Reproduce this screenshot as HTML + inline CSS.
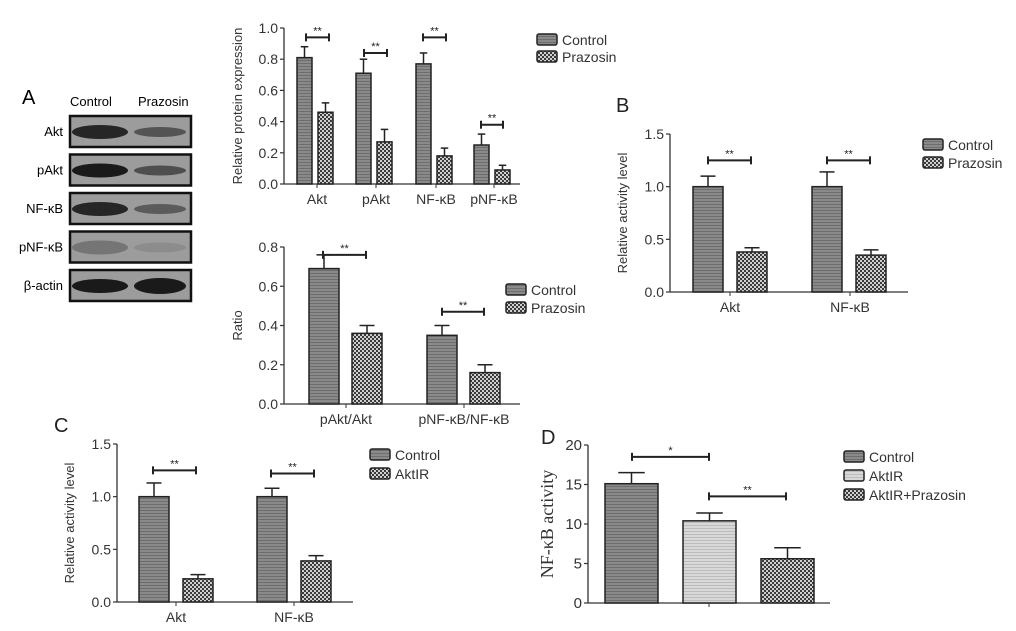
<!DOCTYPE html>
<html><head><meta charset="utf-8"><style>
body{margin:0;background:#fff;}
svg{display:block;font-family:"Liberation Sans",sans-serif;}
</style></head><body>
<svg id="fig" width="1016" height="631" viewBox="0 0 1016 631">
<defs>
<pattern id="hlines" width="4" height="3" patternUnits="userSpaceOnUse"><rect width="4" height="3" fill="#8a8a8a"/><rect width="4" height="1" fill="#6e6e6e"/></pattern>
<pattern id="hlight" width="4" height="3" patternUnits="userSpaceOnUse"><rect width="4" height="3" fill="#d8d8d8"/><rect width="4" height="1" fill="#bcbcbc"/></pattern>
<pattern id="checker" width="4" height="4" patternUnits="userSpaceOnUse"><rect width="4" height="4" fill="#3a3a3a"/><rect width="2" height="2" fill="#cfcfcf"/><rect x="2" y="2" width="2" height="2" fill="#cfcfcf"/></pattern>
</defs>
<g id="blot">
<text x="22" y="104" font-size="20">A</text>
<text x="70" y="106" font-size="13">Control</text>
<text x="138" y="106" font-size="13">Prazosin</text>
</g>
<g id="charts"></g>
</svg>
<script>
// ---- Panel A top
const aTopCats=["Akt","pAkt","NF-κB","pNF-κB"];
const aTopControl=[0.81,0.71,0.77,0.25];
const aTopControlErr=[0.07,0.09,0.07,0.07];
const aTopPrazosin=[0.46,0.27,0.18,0.09];
const aTopPrazosinErr=[0.06,0.08,0.05,0.03];
const aTopTicks=["0.0","0.2","0.4","0.6","0.8","1.0"];
// ---- Panel A ratio
const aRatioCats=["pAkt/Akt","pNF-κB/NF-κB"];
const aRatioControl=[0.69,0.35];
const aRatioControlErr=[0.07,0.05];
const aRatioPrazosin=[0.36,0.16];
const aRatioPrazosinErr=[0.04,0.04];
const aRatioTicks=["0.0","0.2","0.4","0.6","0.8"];
// ---- Panel B
const bCats=["Akt","NF-κB"];
const bControl=[1.0,1.0];
const bControlErr=[0.1,0.14];
const bPrazosin=[0.38,0.35];
const bPrazosinErr=[0.04,0.05];
const bTicks=["0.0","0.5","1.0","1.5"];
// ---- Panel C
const cCats=["Akt","NF-κB"];
const cControl=[1.0,1.0];
const cControlErr=[0.13,0.08];
const cAktIR=[0.22,0.39];
const cAktIRErr=[0.04,0.05];
const cTicks=["0.0","0.5","1.0","1.5"];
// ---- Panel D
const dCats=["Control","AktIR","AktIR+Prazosin"];
const dValues=[15.1,10.4,5.6];
const dErr=[1.4,1.0,1.4];
const dTicks=["0","5","10","15","20"];

const NS="http://www.w3.org/2000/svg";
const root=document.getElementById('charts');
const blot=document.getElementById('blot');
function mk(tag,attrs,parent){const e=document.createElementNS(NS,tag);for(const k in attrs)e.setAttribute(k,attrs[k]);(parent||root).appendChild(e);return e;}

const blotRows=["Akt","pAkt","NF-κB","pNF-κB","β-actin"];
const blotC=[0.9,1,0.9,0.3,1];
const blotP=[0.55,0.6,0.5,0.12,1];
blotRows.forEach((r,i)=>{
  const y=116+i*38.5;
  const box=mk('rect',{x:70,y:y,width:121,height:31,fill:'#9c9c9c',stroke:'#111','stroke-width':2.5},blot);
  
  
  mk('ellipse',{cx:100,cy:y+16,rx:28,ry:7,fill:'#1a1a1a',opacity:blotC[i]},blot);
  mk('ellipse',{cx:160,cy:y+16,rx:26,ry:i==4?8:5,fill:'#1a1a1a',opacity:blotP[i]},blot);
  const t=mk('text',{x:63,y:y+20,'font-size':13,'text-anchor':'end'},blot);
  t.textContent=r;
  
  
});

function chart(o){
  const g=mk('g',{});
  
  
  const sy=v=>o.y0-(v-o.min)/(o.max-o.min)*(o.y0-o.y1);
  mk('line',{x1:o.ax,y1:o.y1,x2:o.ax,y2:o.y0,stroke:'#333','stroke-width':1.3},g);
  mk('line',{x1:o.ax,y1:o.y0,x2:o.axEnd,y2:o.y0,stroke:'#333','stroke-width':1.3},g);
  o.ticks.forEach((t,i)=>{
    const v=o.min+i*(o.max-o.min)/(o.ticks.length-1);
    const y=sy(v);
    mk('line',{x1:o.ax-4,y1:y,x2:o.ax,y2:y,stroke:'#333','stroke-width':1.2},g);
    const tx=mk('text',{x:o.ax-6,y:y+5,'font-size':o.tfs||14,'text-anchor':'end',fill:'#333'},g);
    tx.textContent=t;
    
    
  });
  const yt=mk('text',{x:0,y:0,'font-size':o.titleFs||13,'text-anchor':'middle',fill:'#333','font-family':o.titleFont||'"Liberation Sans",sans-serif',transform:`translate(${o.titleX},${(o.y0+o.y1)/2}) rotate(-90)`},g);
  yt.textContent=o.title;
  
  
  o.bars.forEach((b,i)=>{
    const top=sy(b.v);
    const r=mk('rect',{x:b.x,y:top,width:b.w,height:o.y0-top,fill:b.fill,stroke:'#222','stroke-width':1.5},g);
    
    
    const cx=b.x+b.w/2,ye=sy(b.v+b.e);
    mk('line',{x1:cx,y1:top,x2:cx,y2:ye,stroke:'#222','stroke-width':1.5},g);
    mk('line',{x1:cx-b.w/4,y1:ye,x2:cx+b.w/4,y2:ye,stroke:'#222','stroke-width':1.5},g);
  });
  o.cats.forEach((c,i)=>{
    if(!c.t)return;
    mk('line',{x1:c.x,y1:o.y0,x2:c.x,y2:o.y0+4,stroke:'#333'},g);
    const t=mk('text',{x:c.x,y:o.y0+20,'font-size':o.cfs||14,'text-anchor':'middle',fill:'#333'},g);
    t.textContent=c.t;
    
    
  });
  (o.sig||[]).forEach(s=>{
    const y=sy(s.v);
    mk('line',{x1:s.x1,y1:y,x2:s.x2,y2:y,stroke:'#222','stroke-width':2},g);
    mk('line',{x1:s.x1,y1:y-4,x2:s.x1,y2:y+4,stroke:'#222','stroke-width':2},g);
    mk('line',{x1:s.x2,y1:y-4,x2:s.x2,y2:y+4,stroke:'#222','stroke-width':2},g);
    const t=mk('text',{x:(s.x1+s.x2)/2,y:y-3,'font-size':11,'text-anchor':'middle',fill:'#222'},g);
    t.textContent=s.s;
    
    
  });
  o.legend.forEach((l,i)=>{
    const y=o.ly+i*o.lstep;
    const r=mk('rect',{x:o.lx,y:y-6,width:20,height:11,rx:2,fill:l.fill,stroke:'#222','stroke-width':1.5},g);
    
    
    const t=mk('text',{x:o.lx+25,y:y+5,'font-size':14,fill:'#333'},g);
    t.textContent=l.t;
    
    
  });
  if(o.label){const t=mk('text',{x:o.label[0],y:o.label[1],'font-size':20,fill:'#222'},g);t.textContent=o.label[2];
    
    }
}
const H='url(#hlines)',C='url(#checker)',L='url(#hlight)';
function pairBars(ctrl,ce,tr,te,xs,w,gap){const b=[];ctrl.forEach((v,i)=>{b.push({x:xs[i],w:w,v:v,e:ce[i],fill:H});b.push({x:xs[i]+w+gap,w:w,v:tr[i],e:te[i],fill:C});});return b;}

chart({name:'chart-a-protein',ax:284,axEnd:520,y0:184,y1:28,min:0,max:1,ticks:aTopTicks,title:'Relative protein expression',titleX:242,
 bars:pairBars(aTopControl,aTopControlErr,aTopPrazosin,aTopPrazosinErr,[297,356,416,474],15,6),
 cats:aTopCats.map((t,i)=>({t:t,x:[317,376,436,494][i]})),
 sig:[{x1:306,x2:329,v:0.94,s:'**'},{x1:364,x2:387,v:0.84,s:'**'},{x1:423,x2:446,v:0.94,s:'**'},{x1:481,x2:503,v:0.38,s:'**'}],
 legend:[{t:'Control',fill:H},{t:'Prazosin',fill:C}],lx:537,ly:40,lstep:17});

chart({name:'chart-a-ratio',ax:284,axEnd:520,y0:404,y1:247,min:0,max:0.8,ticks:aRatioTicks,title:'Ratio',titleX:242,
 bars:pairBars(aRatioControl,aRatioControlErr,aRatioPrazosin,aRatioPrazosinErr,[309,427],30,13),
 cats:aRatioCats.map((t,i)=>({t:t,x:[346,464][i]})),
 sig:[{x1:323,x2:366,v:0.76,s:'**'},{x1:442,x2:484,v:0.47,s:'**'}],
 legend:[{t:'Control',fill:H},{t:'Prazosin',fill:C}],lx:506,ly:290,lstep:18});

chart({name:'chart-b-activity',ax:670,axEnd:908,y0:292,y1:134,min:0,max:1.5,ticks:bTicks,title:'Relative activity level',titleX:627,
 bars:pairBars(bControl,bControlErr,bPrazosin,bPrazosinErr,[693,812],30,14),
 cats:bCats.map((t,i)=>({t:t,x:[730,850][i]})),
 sig:[{x1:708,x2:751,v:1.25,s:'**'},{x1:827,x2:870,v:1.25,s:'**'}],
 legend:[{t:'Control',fill:H},{t:'Prazosin',fill:C}],lx:923,ly:145,lstep:18,label:[616,112,'B']});

chart({name:'chart-c-activity',ax:117,axEnd:353,y0:602,y1:444,min:0,max:1.5,ticks:cTicks,title:'Relative activity level',titleX:74,
 bars:pairBars(cControl,cControlErr,cAktIR,cAktIRErr,[139,257],30,14),
 cats:cCats.map((t,i)=>({t:t,x:[176,294][i]})),
 sig:[{x1:153,x2:196,v:1.25,s:'**'},{x1:271,x2:314,v:1.22,s:'**'}],
 legend:[{t:'Control',fill:H},{t:'AktIR',fill:C}],lx:370,ly:455,lstep:19,label:[54,432,'C']});

chart({name:'chart-d-nfkb',ax:588,axEnd:830,y0:603,y1:445,min:0,max:20,ticks:dTicks,title:'NF-κB activity',titleX:553,titleFs:18,titleFont:'"Liberation Serif",serif',tfs:15,
 bars:dValues.map((v,i)=>({x:[605,683,761][i],w:53,v:v,e:dErr[i],fill:[H,L,C][i]})),
 cats:[{t:'',x:0},{t:' ',x:709}],
 sig:[{x1:632,x2:709,v:18.5,s:'*'},{x1:709,x2:786,v:13.5,s:'**'}],
 legend:dCats.map((t,i)=>({t:t,fill:[H,L,C][i]})),lx:844,ly:457,lstep:19,label:[541,444,'D']});
</script>
</body></html>
